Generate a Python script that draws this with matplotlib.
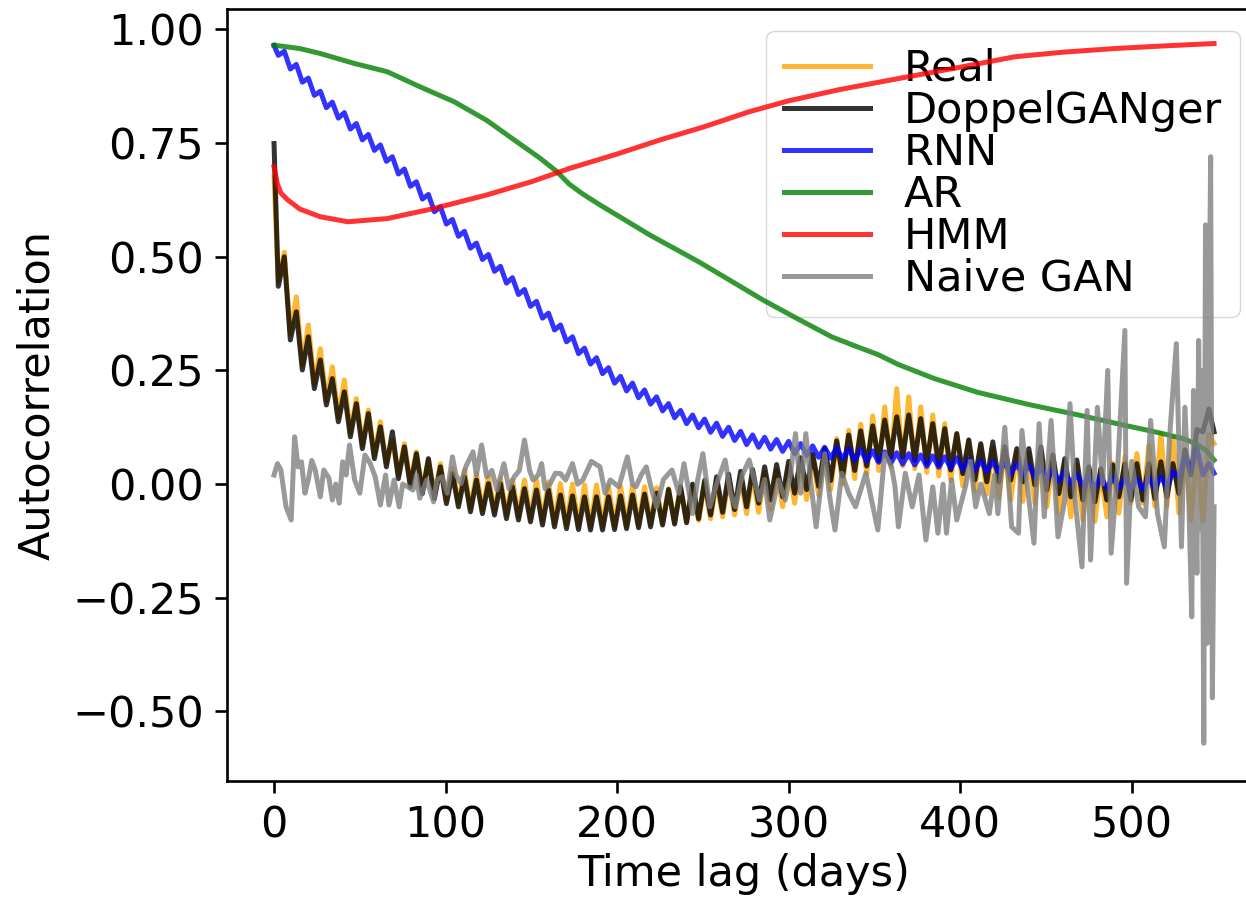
"""
Autocorrelation of daily series vs time lag for real data and generators.
Writes: out.png
"""

import matplotlib
matplotlib.use("Agg")
import matplotlib.pyplot as plt
import numpy as np

plt.rcParams.update({
    "font.family": "DejaVu Sans",
    "font.size": 31,
    "axes.linewidth": 1.9,
    "xtick.major.size": 8.4,
    "ytick.major.size": 8.4,
    "xtick.major.width": 1.9,
    "ytick.major.width": 1.9,
    "xtick.major.pad": 8.4,
    "ytick.major.pad": 8.4,
    "axes.labelpad": 9.6,
})

LW = 3.6
ALPHA = 0.8

# weekly structure: peaks at lag index 6, 13, ..., 545; troughs at 2.5, 9.5, ..., 541.5
PEAK_LAGS = np.arange(6, 546, 7)
TROUGH_LAGS = np.arange(2.5, 542, 7)
LAST_LAG = 548

# ---- Real ----
REAL_START, REAL_END = 0.676, 0.089
REAL_PEAKS = [
    0.510, 0.412, 0.350, 0.298, 0.258, 0.229, 0.188, 0.163, 0.137, 0.095,
    0.089, 0.071, 0.053, 0.045, 0.034, 0.031, 0.023, 0.016, 0.012, 0.009,
    0.009, 0.009, 0.005, 0.001, 0.000, -0.002, -0.002, -0.004, -0.004, -0.004,
    -0.006, -0.008, -0.010, -0.008, -0.006, 0.000, 0.006, 0.012, 0.016, 0.020,
    0.026, 0.032, 0.040, 0.050, 0.062, 0.078, 0.100, 0.118, 0.132, 0.150,
    0.170, 0.210, 0.192, 0.170, 0.152, 0.133, 0.111, 0.097, 0.085, 0.080,
    0.075, 0.070, 0.068, 0.070, 0.058, 0.050, 0.042, 0.035, 0.030, 0.046,
    0.060, 0.067, 0.085, 0.111, 0.104, 0.075, 0.080, 0.110,
]
REAL_TROUGHS = [
    0.445, 0.330, 0.262, 0.220, 0.183, 0.146, 0.113, 0.086, 0.064, 0.046,
    0.020, 0.002, -0.013, -0.024, -0.035, -0.042, -0.053, -0.057, -0.060, -0.068,
    -0.071, -0.075, -0.082, -0.086, -0.090, -0.093, -0.094, -0.094, -0.093, -0.092,
    -0.090, -0.088, -0.086, -0.084, -0.082, -0.080, -0.076, -0.072, -0.068, -0.065,
    -0.062, -0.056, -0.050, -0.042, -0.034, -0.025, -0.012, 0.000, 0.012, 0.022,
    0.030, 0.038, 0.040, 0.034, 0.026, 0.018, 0.008, -0.004, -0.015, -0.022,
    -0.030, -0.035, -0.038, -0.042, -0.050, -0.064, -0.072, -0.079, -0.082, -0.072,
    -0.064, -0.042, -0.042, -0.049, -0.049, -0.064, -0.079, -0.082,
]

# ---- DoppelGANger ----
DG_START, DG_END = 0.749, 0.115
DG_PEAKS = [
    0.500, 0.379, 0.324, 0.273, 0.232, 0.203, 0.177, 0.155, 0.126, 0.115,
    0.082, 0.067, 0.056, 0.038, 0.023, 0.016, 0.009, 0.001, 0.001, -0.006,
    -0.010, -0.013, -0.013, -0.024, -0.026, -0.028, -0.028, -0.028, -0.026, -0.024,
    -0.022, -0.020, -0.012, -0.006, 0.000, 0.008, 0.016, 0.022, 0.028, 0.032,
    0.038, 0.043, 0.050, 0.058, 0.066, 0.078, 0.095, 0.108, 0.117, 0.128,
    0.141, 0.148, 0.152, 0.144, 0.133, 0.122, 0.111, 0.097, 0.089, 0.093,
    0.082, 0.078, 0.078, 0.082, 0.064, 0.056, 0.053, 0.038, 0.034, 0.042,
    0.045, 0.045, 0.045, 0.049, 0.045, 0.075, 0.120, 0.165,
]
DG_TROUGHS = [
    0.435, 0.317, 0.251, 0.210, 0.174, 0.137, 0.104, 0.078, 0.056, 0.038,
    0.012, -0.006, -0.021, -0.032, -0.043, -0.050, -0.061, -0.065, -0.068, -0.076,
    -0.079, -0.083, -0.090, -0.094, -0.098, -0.100, -0.101, -0.101, -0.100, -0.098,
    -0.096, -0.094, -0.090, -0.088, -0.085, -0.076, -0.068, -0.062, -0.056, -0.050,
    -0.042, -0.035, -0.028, -0.020, -0.012, -0.005, 0.008, 0.018, 0.030, 0.040,
    0.052, 0.060, 0.060, 0.053, 0.045, 0.042, 0.031, 0.023, 0.009, 0.005,
    0.005, 0.009, 0.005, -0.002, -0.013, -0.021, -0.028, -0.035, -0.039, -0.035,
    -0.028, -0.035, -0.035, -0.032, -0.028, -0.021, 0.020, 0.115,
]

# ---- RNN ----
RNN_START, RNN_END = 0.965, 0.024
RNN_PEAKS = [
    0.952, 0.923, 0.893, 0.864, 0.840, 0.817, 0.793, 0.769, 0.746, 0.720,
    0.693, 0.665, 0.637, 0.610, 0.582, 0.556, 0.530, 0.505, 0.479, 0.454,
    0.428, 0.402, 0.376, 0.350, 0.324, 0.299, 0.278, 0.256, 0.237, 0.222,
    0.207, 0.192, 0.177, 0.162, 0.152, 0.143, 0.134, 0.125, 0.116, 0.108,
    0.103, 0.098, 0.094, 0.089, 0.084, 0.081, 0.080, 0.078, 0.076, 0.073,
    0.071, 0.069, 0.067, 0.064, 0.062, 0.060, 0.058, 0.055, 0.052, 0.050,
    0.047, 0.045, 0.042, 0.037, 0.032, 0.027, 0.022, 0.017, 0.016, 0.014,
    0.013, 0.012, 0.014, 0.016, 0.027, 0.060, 0.080, 0.045,
]
RNN_TROUGHS = [
    0.943, 0.913, 0.884, 0.855, 0.828, 0.805, 0.781, 0.757, 0.734, 0.710,
    0.682, 0.655, 0.627, 0.599, 0.572, 0.545, 0.519, 0.494, 0.468, 0.442,
    0.417, 0.391, 0.365, 0.339, 0.313, 0.287, 0.264, 0.243, 0.222, 0.205,
    0.190, 0.176, 0.161, 0.146, 0.133, 0.124, 0.114, 0.105, 0.096, 0.087,
    0.081, 0.077, 0.072, 0.067, 0.063, 0.059, 0.057, 0.055, 0.053, 0.050,
    0.048, 0.046, 0.044, 0.042, 0.039, 0.037, 0.035, 0.032, 0.030, 0.027,
    0.025, 0.022, 0.019, 0.016, 0.011, 0.006, 0.001, -0.004, -0.008, -0.009,
    -0.010, -0.012, -0.011, -0.009, -0.006, 0.015, 0.030, 0.020,
]

# ---- AR ----
AR_LAGS = [0, 5, 15, 27, 47, 66, 85, 105, 124, 143, 155, 165, 172, 180, 190,
           205, 219, 235, 248, 265, 285, 305, 325, 340, 352, 364, 385, 410,
           440, 469, 495, 517, 530, 538, 544, 548]
AR_VALUES = [0.965, 0.963, 0.958, 0.947, 0.925, 0.907, 0.874, 0.841, 0.800,
             0.749, 0.717, 0.687, 0.660, 0.638, 0.614, 0.580, 0.548, 0.515,
             0.488, 0.450, 0.405, 0.364, 0.324, 0.302, 0.285, 0.263, 0.232,
             0.202, 0.175, 0.152, 0.130, 0.112, 0.100, 0.088, 0.072, 0.053]

# ---- HMM ----
HMM_LAGS = [0, 2, 4, 8, 15, 27, 43, 66, 93, 124, 150, 172, 200, 225, 250,
            277, 300, 330, 364, 400, 432, 460, 490, 520, 548]
HMM_VALUES = [0.698, 0.660, 0.640, 0.625, 0.605, 0.588, 0.577, 0.584, 0.606,
              0.636, 0.665, 0.694, 0.726, 0.757, 0.785, 0.819, 0.843, 0.868,
              0.892, 0.917, 0.940, 0.950, 0.958, 0.964, 0.969]

# ---- Naive GAN ----
GAN_LAGS = [
    0, 2, 4, 7, 10, 12, 14, 16, 18, 20, 22, 24, 27, 29, 32, 34, 36, 38, 40, 42,
    44, 47, 50, 53, 56, 59, 62, 65, 67, 70, 73, 75, 78, 81, 83, 85, 89, 93, 95,
    98, 101, 104, 106, 109, 112, 116, 118, 121, 124, 127, 130, 134, 137, 140,
    143, 146, 149, 151, 154, 156, 158, 161, 164, 167, 170, 174, 177, 180, 185,
    190, 193, 196, 201, 206, 209, 211, 214, 217, 220, 223, 227, 232, 236, 239,
    244, 247, 250, 254, 258, 263, 266, 269, 273, 277, 283, 286, 289, 294, 298,
    301, 304, 307, 310, 313, 316, 321, 324, 327, 331, 335, 339, 345, 348, 352,
    356, 360, 362, 364, 368, 372, 376, 380, 384, 387, 390, 392, 395, 398, 403,
    406, 409, 412, 417, 420, 422, 426, 430, 434, 436, 439, 443, 446, 449, 453,
    457, 461, 464, 467, 471, 474, 476, 480, 483, 486, 488, 492, 496, 497, 500,
    504, 508, 511, 515, 519, 522, 526, 529, 531, 533, 535, 536, 538, 539, 540,
    541, 542, 543, 544, 545, 546, 547, 548,
]
GAN_VALUES = [
    0.020, 0.045, 0.031, -0.050, -0.079, 0.104, 0.038, 0.049, -0.020, 0.010,
    0.052, 0.031, -0.028, 0.031, 0.013, -0.035, 0.000, -0.042, 0.049, 0.020,
    0.086, 0.009, -0.020, 0.064, 0.046, 0.016, -0.046, 0.020, -0.046, 0.009,
    -0.050, 0.000, -0.006, -0.013, 0.020, -0.031, 0.009, -0.039, 0.010,
    0.016, -0.020, 0.060, 0.020, 0.001, 0.040, 0.071, 0.020, 0.086, 0.016,
    0.030, -0.013, 0.045, -0.010, 0.016, 0.030, 0.097, 0.030, 0.009, 0.020,
    0.045, -0.010, 0.001, 0.024, 0.023, 0.009, 0.045, 0.000, 0.009, 0.050,
    0.038, -0.020, 0.009, -0.006, 0.060, 0.000, -0.006, 0.020, 0.038, -0.010,
    -0.050, 0.010, 0.031, -0.020, 0.045, -0.065, 0.010, 0.067, -0.050, 0.000,
    0.053, -0.020, -0.050, 0.020, 0.053, -0.035, 0.010, -0.079, 0.009, -0.035,
    0.020, 0.111, -0.020, 0.111, 0.000, -0.094, 0.067, -0.030, -0.101, 0.024,
    -0.020, -0.050, 0.024, -0.030, -0.101, 0.067, 0.038, -0.006, -0.094,
    0.024, -0.050, 0.020, -0.123, -0.006, -0.108, 0.000, -0.108, 0.010,
    -0.079, -0.006, 0.050, -0.050, 0.000, -0.065, 0.020, -0.065, 0.125,
    -0.094, -0.108, 0.118, 0.000, -0.130, 0.133, -0.072, 0.140, -0.116,
    -0.035, 0.177, -0.035, -0.182, 0.162, -0.167, 0.169, 0.000, 0.250,
    -0.152, 0.050, 0.338, -0.218, 0.050, -0.050, -0.072, 0.140, -0.065,
    -0.138, 0.100, 0.309, -0.138, 0.169, 0.000, -0.292, 0.206, -0.196, 0.316,
    -0.100, 0.250, -0.570, 0.570, -0.350, 0.300, 0.720, -0.470, -0.050,
]

SERIES_COLORS = {
    "Real": "orange",
    "DoppelGANger": "black",
    "RNN": "blue",
    "AR": "green",
    "HMM": "red",
    "Naive GAN": "gray",
}


def weekly_series(start, peaks, troughs, end):
    """Interleave trough/peak readings into one lag-ordered series."""
    xs = [0.0]
    ys = [start]
    for t_lag, t_val, p_lag, p_val in zip(TROUGH_LAGS, troughs, PEAK_LAGS, peaks):
        xs += [t_lag, p_lag]
        ys += [t_val, p_val]
    xs.append(LAST_LAG)
    ys.append(end)
    return np.array(xs), np.array(ys)


def main():
    series = {
        "Real": weekly_series(REAL_START, REAL_PEAKS, REAL_TROUGHS, REAL_END),
        "DoppelGANger": weekly_series(DG_START, DG_PEAKS, DG_TROUGHS, DG_END),
        "RNN": weekly_series(RNN_START, RNN_PEAKS, RNN_TROUGHS, RNN_END),
        "AR": (np.array(AR_LAGS), np.array(AR_VALUES)),
        "HMM": (np.array(HMM_LAGS), np.array(HMM_VALUES)),
        "Naive GAN": (np.array(GAN_LAGS), np.array(GAN_VALUES)),
    }

    fig = plt.figure(figsize=(12.46, 8.98), dpi=100)
    ax = fig.add_axes([0.1822, 0.1303, 0.8299, 0.8597])

    for name, (x, y) in series.items():
        ax.plot(x, y, color=SERIES_COLORS[name], linewidth=LW, alpha=ALPHA, label=name)

    ax.set_xlim(-27.4, 575.4)
    ax.set_ylim(-0.653, 1.045)
    ax.set_xticks([0, 100, 200, 300, 400, 500])
    ax.set_yticks([-0.5, -0.25, 0.0, 0.25, 0.5, 0.75, 1.0])
    ax.set_xlabel("Time lag (days)", labelpad=5)
    ax.set_ylabel("Autocorrelation")
    leg = ax.legend(loc="upper right", labelspacing=0.0)
    leg.set_zorder(1)  # curves run over the legend box

    fig.savefig("out.png", dpi=100)
    plt.close(fig)


if __name__ == "__main__":
    main()
